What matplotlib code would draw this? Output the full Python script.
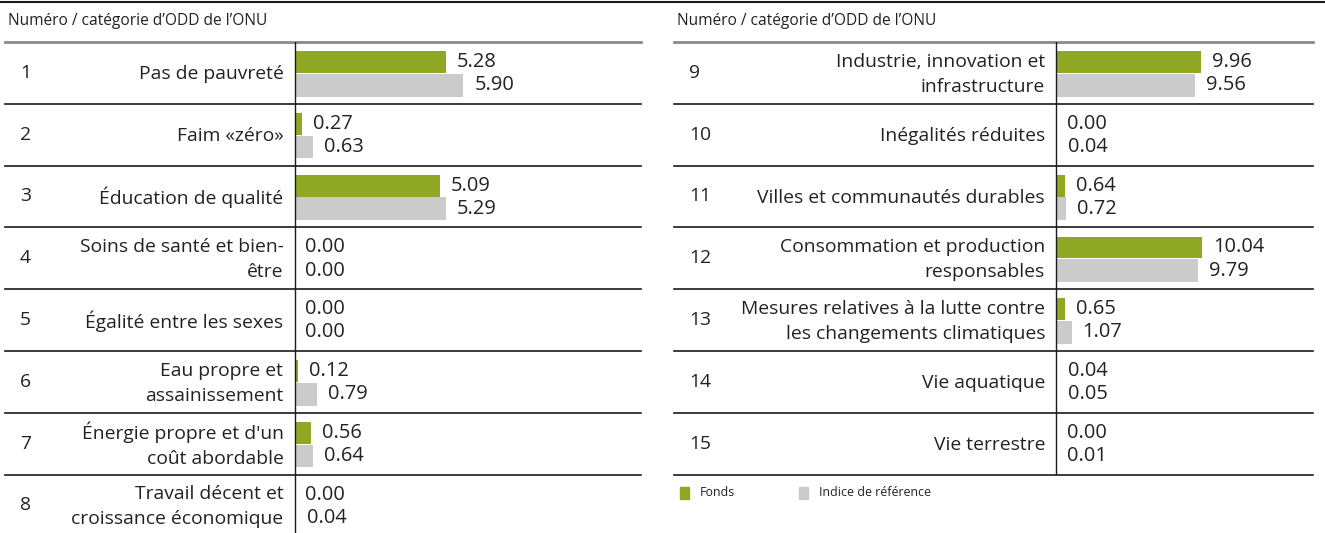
import matplotlib
matplotlib.use("Agg")
import matplotlib.pyplot as plt
from matplotlib import transforms

plt.rcParams['font.family'] = ['Open Sans', 'DejaVu Sans']

# DATA
header = "Numéro / catégorie d\u2019ODD de l\u2019ONU"
left_nums = ["1", "2", "3", "4", "5", "6", "7", "8"]
left_labels = ["Pas de pauvreté", "Faim «zéro»", "Éducation de qualité",
               "Soins de santé et bien-\nêtre", "Égalité entre les sexes",
               "Eau propre et\nassainissement", "Énergie propre et d'un\ncoût abordable",
               "Travail décent et\ncroissance économique"]
left_fund = [5.28, 0.27, 5.09, 0.00, 0.00, 0.12, 0.56, 0.00]
left_bench = [5.90, 0.63, 5.29, 0.00, 0.00, 0.79, 0.64, 0.04]

right_nums = ["9", "10", "11", "12", "13", "14", "15"]
right_labels = ["Industrie, innovation et\ninfrastructure", "Inégalités réduites",
                "Villes et communautés durables", "Consommation et production\nresponsables",
                "Mesures relatives à la lutte contre\nles changements climatiques",
                "Vie aquatique", "Vie terrestre"]
right_fund = [9.96, 0.00, 0.64, 10.04, 0.65, 0.04, 0.00]
right_bench = [9.56, 0.04, 0.72, 9.79, 1.07, 0.05, 0.01]

legend_names = ["Fonds", "Indice de référence"]

GREEN = "#8fa823"
GREY = "#cbcbcb"
TXT = "#222222"
W, H = 1325, 533
FS_LAB = 13.9   # row labels
FS_VAL = 14.4   # value labels
FS_HEAD = 11.2
FS_LEG = 8.9

fig = plt.figure(figsize=(W / 100, H / 100), dpi=100)


def px_rect(x0, y0, x1, y1):
    # pixel box (top-left origin) -> figure fraction rect
    return [x0 / W, 1 - y1 / H, (x1 - x0) / W, (y1 - y0) / H]


def panel(x0, x1, xaxis, px_per_unit, nums, labels, fund, bench, row_h=61.8, top=42):
    n = len(labels)
    y1 = top + n * row_h
    ax = fig.add_axes(px_rect(x0, top, x1, y1))
    ax.set_xlim(-(xaxis - x0) / px_per_unit, (x1 - xaxis) / px_per_unit)
    ax.set_ylim(n, 0)
    ax.axis("off")

    rows = list(range(n))
    ax.barh([r + 0.325 for r in rows], fund, height=0.355, color=GREEN, left=0)
    ax.barh([r + 0.70 for r in rows], bench, height=0.37, color=GREY, left=0)

    off = transforms.offset_copy(ax.transData, fig=fig, x=11, y=0, units='dots')
    for r in rows:
        ax.text(fund[r], r + 0.325, f"{fund[r]:.2f}", transform=off,
                ha="left", va="center", fontsize=FS_VAL, color=TXT)
        ax.text(bench[r], r + 0.70, f"{bench[r]:.2f}", transform=off,
                ha="left", va="center", fontsize=FS_VAL, color=TXT)

    # row labels
    tx = transforms.blended_transform_factory(fig.transFigure, ax.transData)
    for r in rows:
        ax.text((x0 + 15) / W, r + 0.5, nums[r], transform=tx, ha="left", va="center",
                fontsize=FS_LAB, color=TXT)
        ax.text((xaxis - 11) / W, r + 0.52, labels[r], transform=tx, ha="right", va="center",
                fontsize=FS_LAB, color=TXT, linespacing=1.5, multialignment="right")

    # separators
    hx = transforms.blended_transform_factory(ax.transAxes, ax.transData)
    for r in range(1, n + 1):
        ax.plot([0, 1], [r, r], transform=hx, color="#1a1a1a", lw=1.2, clip_on=False)
    ax.plot([0, 1], [0, 0], transform=hx, color="#8a8a8a", lw=2, clip_on=False)
    ax.axvline(0, color="#1a1a1a", lw=1.0)

    fig.text((x0 + 3) / W, 1 - 21 / H, header, ha="left", va="center",
             fontsize=FS_HEAD, color=TXT)
    return ax


panel(5, 641, 294.5, 28.6, left_nums, left_labels, left_fund, left_bench)
panel(674, 1313, 1056, 14.55, right_nums, right_labels, right_fund, right_bench)

# top rule
fig.add_artist(plt.Line2D([0, 1], [1 - 2 / H, 1 - 2 / H], transform=fig.transFigure,
                          color="#1a1a1a", lw=1.5))

# legend
for name, col, lx in zip(legend_names, [GREEN, GREY], [680, 799]):
    fig.patches.append(plt.Rectangle((lx / W, 1 - 499 / H), 9 / W, 12 / H,
                                     transform=fig.transFigure, color=col))
    fig.text((lx + 20) / W, 1 - 492 / H, name, ha="left", va="center",
             fontsize=FS_LEG, color=TXT)

fig.savefig("out.png", dpi=100)
